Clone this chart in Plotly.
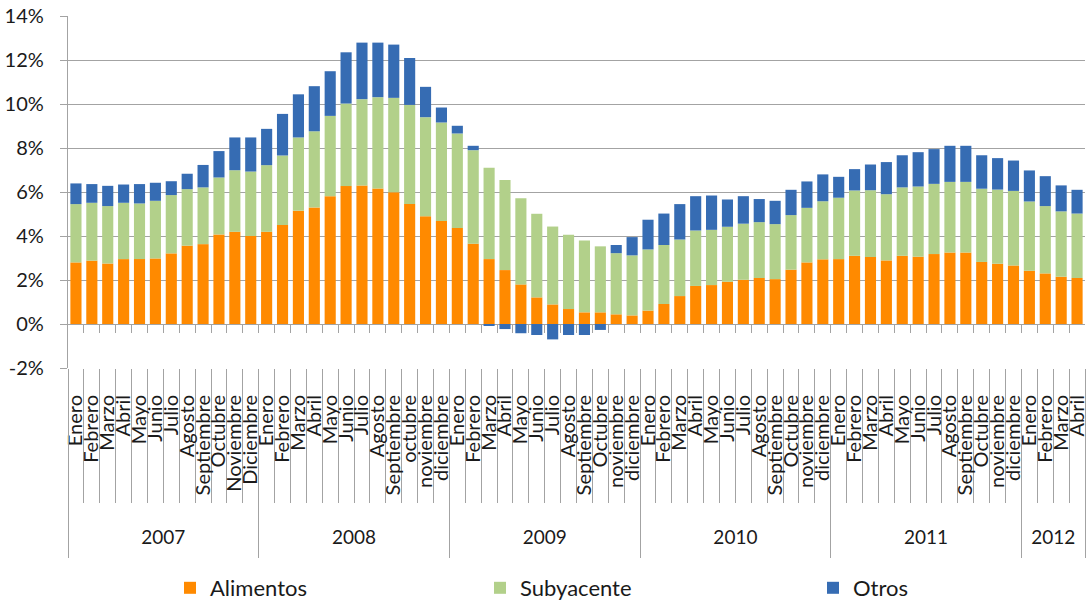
import plotly.graph_objects as go

# ---------------- data ----------------
years = ["2007", "2008", "2009", "2010", "2011", "2012"]
months = [
    "Enero", "Febrero", "Marzo", "Abril", "Mayo", "Junio", "Julio", "Agosto", "Septiembre", "Octubre", "Noviembre", "Diciembre",
    "Enero", "Febrero", "Marzo", "Abril", "Mayo", "Junio", "Julio", "Agosto", "Septiembre", "octubre", "noviembre", "diciembre",
    "Enero", "Febrero", "Marzo", "Abril", "Mayo", "Junio", "Julio", "Agosto", "Septiembre", "Octubre", "noviembre", "diciembre",
    "Enero", "Febrero", "Marzo", "Abril", "Mayo", "Junio", "Julio", "Agosto", "Septiembre", "Octubre", "noviembre", "diciembre",
    "Enero", "Febrero", "Marzo", "Abril", "Mayo", "Junio", "Julio", "Agosto", "Septiembre", "Octubre", "noviembre", "diciembre",
    "Enero", "Febrero", "Marzo", "Abril",
]
months_per_year = [12, 12, 12, 12, 12, 4]

alimentos = [
    2.80, 2.88, 2.75, 2.95, 2.95, 2.98, 3.21, 3.56, 3.63, 4.07, 4.19, 4.00,
    4.19, 4.50, 5.15, 5.30, 5.81, 6.27, 6.30, 6.16, 5.99, 5.46, 4.90, 4.68,
    4.36, 3.65, 2.95, 2.45, 1.80, 1.21, 0.89, 0.68, 0.53, 0.53, 0.44, 0.39,
    0.61, 0.91, 1.27, 1.73, 1.77, 1.92, 2.01, 2.09, 2.04, 2.47, 2.80, 2.94,
    2.95, 3.10, 3.04, 2.89, 3.10, 3.06, 3.18, 3.25, 3.25, 2.82, 2.74, 2.66,
    2.42, 2.30, 2.15, 2.09,
]
subyacente = [
    2.65, 2.63, 2.61, 2.56, 2.53, 2.62, 2.65, 2.57, 2.58, 2.59, 2.80, 2.93,
    3.03, 3.16, 3.33, 3.46, 3.65, 3.75, 3.92, 4.15, 4.29, 4.50, 4.50, 4.48,
    4.30, 4.25, 4.15, 4.09, 3.92, 3.80, 3.54, 3.38, 3.27, 3.00, 2.78, 2.73,
    2.78, 2.68, 2.57, 2.52, 2.51, 2.50, 2.55, 2.54, 2.50, 2.48, 2.48, 2.64,
    2.79, 2.97, 3.04, 3.01, 3.11, 3.19, 3.19, 3.21, 3.21, 3.33, 3.37, 3.39,
    3.15, 3.06, 2.97, 2.93,
]
otros = [
    0.94, 0.85, 0.92, 0.83, 0.88, 0.82, 0.63, 0.70, 1.02, 1.20, 1.49, 1.55,
    1.65, 1.89, 1.96, 2.05, 2.03, 2.33, 2.57, 2.48, 2.42, 2.13, 1.38, 0.68,
    0.35, 0.20, -0.05, -0.23, -0.42, -0.50, -0.70, -0.50, -0.50, -0.27, 0.37, 0.83,
    1.35, 1.43, 1.61, 1.56, 1.56, 1.24, 1.25, 1.05, 1.06, 1.15, 1.20, 1.22,
    0.95, 0.97, 1.17, 1.46, 1.46, 1.56, 1.58, 1.64, 1.64, 1.52, 1.43, 1.38,
    1.41, 1.36, 1.18, 1.08,
]

y_tickvals = [-2, 0, 2, 4, 6, 8, 10, 12, 14]
y_ticktext = ["-2%", "0%", "2%", "4%", "6%", "8%", "10%", "12%", "14%"]

series_names = ["Alimentos", "Subyacente", "Otros"]
series_colors = ["#FF8A00", "#B2D08A", "#366CB3"]

# ---------------- derived positions ----------------
n = len(months)
xs = list(range(n))
month_bounds = [i - 0.5 for i in range(n + 1)]
year_bounds = [-0.5]
year_centers = []
acc = 0
for m in months_per_year:
    year_centers.append(acc + (m - 1) / 2)
    acc += m
    year_bounds.append(acc - 0.5)

GRID = "#A3A3A3"
FONT = "Lato"
TXT = "#1a1a1a"

fig = go.Figure()
legends = ["legend", "legend2", "legend3"]
for name, vals, col, lg in zip(series_names, [alimentos, subyacente, otros], series_colors, legends):
    fig.add_trace(go.Bar(
        x=xs, y=vals, name=name, marker=dict(color=col, line=dict(width=0)),
        legend=lg,
    ))

# invisible helper traces so that the overlay axes (year level, zero-line ticks) are drawn
for ax in ["x2", "x3"]:
    fig.add_trace(go.Scatter(x=[xs[0]], y=[0], xaxis=ax, yaxis="y", mode="markers",
                             marker=dict(opacity=0, size=1), showlegend=False,
                             hoverinfo="skip"))

xr = [-0.5, n - 0.5]
leg_common = dict(orientation="h", xref="container", yref="container",
                  xanchor="left", yanchor="middle",
                  font=dict(family=FONT, size=22, color=TXT), bgcolor="rgba(0,0,0,0)")
LEG_Y = (601 - 588) / 601
fig.update_layout(
    width=1088, height=601,
    template="none",
    barmode="relative",
    bargap=0.3,
    paper_bgcolor="white", plot_bgcolor="white",
    margin=dict(l=68, r=3, t=16, b=233, autoexpand=False),
    font=dict(family=FONT, size=18, color=TXT),
    xaxis=dict(
        range=xr, tickmode="array", tickvals=xs, ticktext=months,
        tickangle=-90, ticks="outside", ticklen=18, tickcolor="rgba(0,0,0,0)",
        showgrid=False, zeroline=False, showline=False,
        tickfont=dict(family=FONT, size=20, color=TXT),
        minor=dict(tickmode="array", tickvals=month_bounds, ticks="outside",
                   ticklen=134, tickcolor=GRID, tickwidth=1.3, showgrid=False),
        automargin=False,
    ),
    xaxis2=dict(
        range=xr, overlaying="x", anchor="y", side="bottom",
        tickmode="array", tickvals=year_centers, ticktext=years,
        ticks="", showgrid=False, zeroline=False, showline=False,
        tickfont=dict(family=FONT, size=19, color=TXT),
        ticklabelstandoff=156,
        minor=dict(tickmode="array", tickvals=year_bounds, ticks="outside",
                   ticklen=189, tickcolor=GRID, tickwidth=1.3, showgrid=False),
        automargin=False,
    ),
    xaxis3=dict(
        range=xr, overlaying="x", anchor="free", position=2 / 16, side="bottom",
        tickmode="array", tickvals=month_bounds[1:-1], ticktext=[""] * (n - 1),
        ticks="outside", ticklen=8, tickcolor=GRID, tickwidth=1.3,
        showticklabels=False, showgrid=False, zeroline=False, showline=False,
        automargin=False,
    ),
    yaxis=dict(
        range=[-2, 14], tickmode="array", tickvals=y_tickvals, ticktext=y_ticktext,
        showgrid=True, gridcolor=GRID, gridwidth=1.3,
        zeroline=False, showline=True, linecolor=GRID, linewidth=1.3,
        ticks="outside", ticklen=7, tickcolor=GRID, tickwidth=1.3,
        tickfont=dict(family=FONT, size=20, color=TXT),
        ticklabelstandoff=12,
        automargin=False,
    ),
    legend=dict(x=170 / 1088, y=LEG_Y, **leg_common),
    legend2=dict(x=480 / 1088, y=LEG_Y, **leg_common),
    legend3=dict(x=813 / 1088, y=LEG_Y, **leg_common),
    showlegend=True,
)

fig.write_html(
    "out.html",
    config={"displayModeBar": False},
    post_script="document.body.style.margin='0';document.body.style.overflow='hidden';",
)
